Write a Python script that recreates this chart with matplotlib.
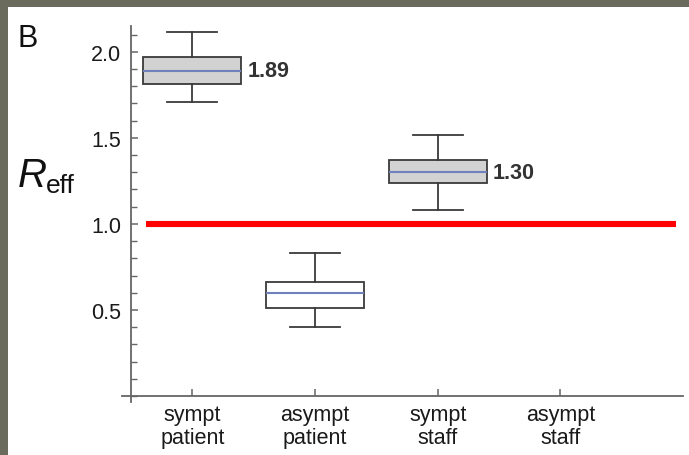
import numpy as np
import matplotlib
matplotlib.use("Agg")
import matplotlib.pyplot as plt
from matplotlib.ticker import MultipleLocator

plt.rcParams['font.family'] = ['Liberation Sans', 'DejaVu Sans']

# category labels
groups = ["sympt\npatient", "asympt\npatient", "sympt\nstaff", "asympt\nstaff"]

# box stats (asympt staff has no box)
whislo = [1.71, 0.40, 1.08]
q1 = [1.815, 0.51, 1.24]
med = [1.89, 0.60, 1.30]
q3 = [1.967, 0.665, 1.37]
whishi = [2.115, 0.83, 1.515]
box_pos = [1, 2, 3]
box_fill = ['#d2d2d2', 'white', '#d2d2d2']
labels_shown = {0: "1.89", 2: "1.30"}

threshold = 1.0

W, H = 689, 456
fig = plt.figure(figsize=(W / 100, H / 100), dpi=100)
fig.patch.set_facecolor('#6b6b5d')
# white panel inside dark frame (frame only on top and left)
fig.patches.append(plt.Rectangle((8 / W, 0), 1, 1 - 8 / H, transform=fig.transFigure,
                                 facecolor='white', edgecolor='none', zorder=-10))

ax = fig.add_axes([122 / W, 1 - 403 / H, (683 - 122) / W, (403 - 27) / H])
ax.set_facecolor('none')

stats = []
for i in range(len(med)):
    stats.append(dict(whislo=whislo[i], q1=q1[i], med=med[i], q3=q3[i], whishi=whishi[i]))

edge = '#3a3a3a'
bp = ax.bxp(stats, positions=box_pos, widths=0.8, capwidths=0.41, showfliers=False,
            patch_artist=True,
            boxprops=dict(edgecolor=edge, linewidth=1.3),
            whiskerprops=dict(color=edge, linewidth=1.3),
            capprops=dict(color=edge, linewidth=1.3),
            medianprops=dict(color='#7080bd', linewidth=1.5))
for patch, c in zip(bp['boxes'], box_fill):
    patch.set_facecolor(c)

for i, txt in labels_shown.items():
    ax.text(box_pos[i] + 0.45, med[i], txt, fontsize=15.5, fontweight='bold',
            color='#333333', va='center', ha='left')

ax.plot([0.625, 4.94], [threshold, threshold], color='#ff0000', linewidth=4.4,
        solid_capstyle='butt', zorder=3)

ax.set_xlim(0.4266, 5.0)
ax.set_ylim(-0.035, 2.15)

for s in ['top', 'right']:
    ax.spines[s].set_visible(False)
ax.spines['left'].set_position(('data', 0.5))
ax.spines['bottom'].set_position(('data', 0.0))
for s in ['left', 'bottom']:
    ax.spines[s].set_color('#666666')
    ax.spines[s].set_linewidth(1.3)

ax.set_xticks(range(1, len(groups) + 1))
ax.set_xticklabels(groups, fontsize=15.5, color='#1a1a1a', linespacing=1.1)
ax.set_yticks([0.5, 1.0, 1.5, 2.0])
ax.yaxis.set_minor_locator(MultipleLocator(0.1))
ax.tick_params(axis='y', which='major', direction='in', length=5, width=1.1,
               color='#666666', labelsize=15.5, labelcolor='#1a1a1a', pad=7)
ax.tick_params(axis='y', which='minor', direction='in', length=4, width=1.0, color='#666666')
ax.tick_params(axis='x', which='major', direction='in', length=5, width=1.1,
               color='#666666', pad=6)

fig.text(17 / W, 1 - 47 / H, "B", fontsize=22, color='#111111', ha='left', va='baseline')
fig.text(18 / W, 1 - 187 / H, "R", fontsize=29, style='italic', color='#111111',
         ha='left', va='baseline')
fig.text(46 / W, 1 - 193 / H, "eff", fontsize=19, color='#111111', ha='left', va='baseline')

fig.savefig("out.png", dpi=100, facecolor=fig.get_facecolor())
